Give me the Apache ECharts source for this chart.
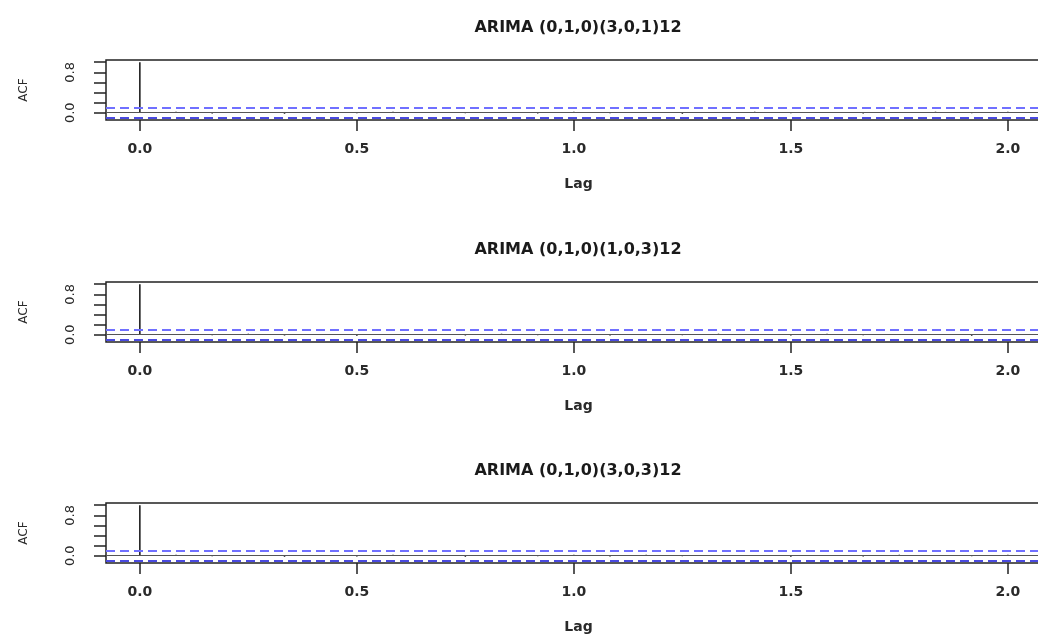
<!DOCTYPE html>
<html>
<head>
<meta charset="utf-8">
<script src="https://cdn.jsdelivr.net/npm/echarts@6/dist/echarts.min.js"></script>
<style>html,body{margin:0;padding:0;background:#fff;}#c{width:1038px;height:636px;}</style>
</head>
<body>
<div id="c"></div>
<script>
// ---- data ----
var titles = ["ARIMA (0,1,0)(3,0,1)12", "ARIMA (0,1,0)(1,0,3)12", "ARIMA (0,1,0)(3,0,3)12"];
var lags = [0, 1/12, 2/12, 3/12, 4/12, 5/12, 6/12, 7/12, 8/12, 9/12, 10/12, 11/12, 1,
            13/12, 14/12, 15/12, 16/12, 17/12, 18/12, 19/12, 20/12, 21/12, 22/12, 23/12, 2, 25/12];
var acf1 = [1, 0.02, -0.015, 0.01, -0.02, 0.015, -0.01, 0.02, 0.015, -0.01, 0.01, -0.015, 0.02,
            -0.01, 0.015, -0.02, 0.01, 0.02, -0.01, 0.015, -0.015, 0.01, 0.02, -0.01, 0.02, -0.015];
var acf2 = [1, 0.015, -0.01, 0.02, -0.015, 0.01, -0.02, 0.015, 0.01, -0.015, 0.02, -0.01, 0.015,
            -0.015, 0.01, -0.01, 0.02, 0.01, -0.015, 0.02, -0.01, 0.015, 0.01, -0.02, 0.015, -0.01];
var acf3 = [1, 0.02, -0.01, 0.015, -0.02, 0.01, -0.015, 0.02, 0.01, -0.02, 0.015, -0.01, 0.02,
            -0.015, 0.02, -0.01, 0.015, 0.01, -0.02, 0.01, -0.015, 0.02, 0.015, -0.01, 0.02, -0.01];
var acfs = [acf1, acf2, acf3];
var clim = 0.1;
var xTicks = [0, 0.5, 1.0, 1.5, 2.0];
var yTicks = [0, 0.2, 0.4, 0.6, 0.8, 1.0];
var yLabels = [0, 0.8];

// ---- layout ----
var tops = [60, 282, 503];
var gridLeft = 106, gridWidth = 945, gridHeight = 60;
var yMin = -clim - 0.04 * (1 + clim), yMax = 1 + 0.04 * (1 + clim);
var xMin = -0.078, xMax = gridWidth / 434 - 0.078;
var font = "DejaVu Sans, Verdana, sans-serif";

var option = {
  animation: false,
  backgroundColor: '#fff',
  title: [], grid: [], xAxis: [], yAxis: [], series: []
};

for (var i = 0; i < 3; i++) {
  option.title.push({
    text: titles[i], left: 573, top: tops[i] - 45, textAlign: 'center',
    textStyle: {fontFamily: font, fontSize: 16, fontWeight: 'bold', color: '#1a1a1a'}
  });
  option.grid.push({
    left: gridLeft, top: tops[i], width: gridWidth, height: gridHeight,
    outerBoundsMode: 'none',
    show: true, borderColor: '#222', borderWidth: 1.5, containLabel: false
  });
  option.xAxis.push({
    type: 'value', gridIndex: i, min: xMin, max: xMax,
    name: 'Lag', nameLocation: 'middle', nameGap: 57,
    nameTextStyle: {fontFamily: font, fontSize: 14, fontWeight: 'bold', color: '#2a2a2a'},
    axisLine: {show: false, onZero: false}, splitLine: {show: false},
    axisTick: {show: true, length: 11, customValues: xTicks, lineStyle: {color: '#222', width: 1.5}},
    axisLabel: {customValues: xTicks, margin: 22, fontFamily: font, fontSize: 14, fontWeight: 'bold', color: '#2a2a2a',
      formatter: function (v) { return v.toFixed(1); }}
  });
  option.yAxis.push({
    type: 'value', gridIndex: i, min: yMin, max: yMax,
    name: 'ACF', nameLocation: 'middle', nameGap: 76, nameRotate: 90,
    nameTextStyle: {fontFamily: font, fontSize: 12, color: '#2a2a2a'},
    axisLine: {show: false, onZero: false}, splitLine: {show: false},
    axisTick: {show: true, length: 12, customValues: yTicks, lineStyle: {color: '#222', width: 1.5}},
    axisLabel: {customValues: yLabels, rotate: 90, margin: 29, fontFamily: font, fontSize: 13, color: '#2a2a2a',
      formatter: function (v) { return v.toFixed(1); }}
  });
  (function (idx) {
    var data = lags.map(function (l, k) { return [l, acfs[idx][k]]; });
    option.series.push({
      type: 'custom', xAxisIndex: idx, yAxisIndex: idx, data: data, clip: true,
      renderItem: function (params, api) {
        var p0 = api.coord([api.value(0), 0]);
        var p1 = api.coord([api.value(0), api.value(1)]);
        return {type: 'line', shape: {x1: p0[0], y1: p0[1], x2: p1[0], y2: p1[1]},
          style: {stroke: '#111', lineWidth: 1.5}};
      },
      markLine: {
        silent: true, symbol: 'none', label: {show: false},
        data: [
          {yAxis: 0, lineStyle: {color: '#555', width: 1.2, type: 'solid'}},
          {yAxis: clim, lineStyle: {color: '#7070ff', width: 1.8, type: [9, 5]}},
          {yAxis: -clim, lineStyle: {color: '#4a4ae0', width: 2, type: [9, 5]}}
        ]
      }
    });
  })(i);
}

var chart = echarts.init(document.getElementById('c'), null, {renderer: 'canvas'});
chart.setOption(option);
</script>
</body>
</html>
